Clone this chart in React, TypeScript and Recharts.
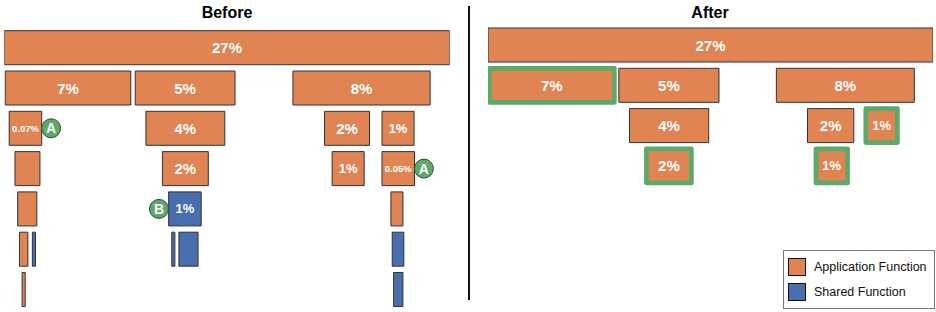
import { BarChart, Bar, XAxis, YAxis } from "recharts"

const FONT = "'Liberation Sans', Arial, Helvetica, sans-serif"

const categories = ["Application Function", "Shared Function"]
const categoryColors = ["#DF8452", "#4A6DAE"]
const highlightColor = "#5BAA69"
const depths = ["0", "1", "2", "3", "4", "5", "6"]

// stack frames: [depth, start, end, label, kind (0 = application, 1 = shared), marker]
const beforeFrames: [number, number, number, string, number, string][] = [
    [0, 0, 100, "27%", 0, ""],
    [1, 0.2, 28.4, "7%", 0, ""],
    [1, 29.4, 51.8, "5%", 0, ""],
    [1, 64.8, 95.6, "8%", 0, ""],
    [2, 1.1, 8.4, "0.07%", 0, "A"],
    [2, 31.8, 49.5, "4%", 0, ""],
    [2, 71.9, 82.0, "2%", 0, ""],
    [2, 84.8, 92.0, "1%", 0, ""],
    [3, 2.4, 8.0, "", 0, ""],
    [3, 35.5, 45.8, "2%", 0, ""],
    [3, 73.6, 80.8, "1%", 0, ""],
    [3, 84.8, 92.1, "0.05%", 0, "A"],
    [4, 3.0, 7.3, "", 0, ""],
    [4, 36.9, 44.2, "1%", 1, "B"],
    [4, 86.8, 89.5, "", 0, ""],
    [5, 3.4, 5.3, "", 0, ""],
    [5, 6.3, 7.0, "", 1, ""],
    [5, 37.6, 38.3, "", 1, ""],
    [5, 39.2, 43.5, "", 1, ""],
    [5, 87.1, 89.7, "", 1, ""],
    [6, 4.0, 4.7, "", 0, ""],
    [6, 87.4, 89.5, "", 1, ""],
]

// [depth, start, end, label, kind, changed]
const afterFrames: [number, number, number, string, number, number][] = [
    [0, 0, 100, "27%", 0, 0],
    [1, 0.3, 28.4, "7%", 0, 1],
    [1, 29.4, 51.9, "5%", 0, 0],
    [1, 64.8, 95.8, "8%", 0, 0],
    [2, 31.8, 49.6, "4%", 0, 0],
    [2, 71.8, 82.2, "2%", 0, 0],
    [2, 84.9, 92.0, "1%", 0, 1],
    [3, 35.6, 45.7, "2%", 0, 1],
    [3, 73.7, 80.8, "1%", 0, 1],
]

const SLOTS = 5

interface FrameMeta {
    label: string
    kind: number
    marker: string
    changed: boolean
}

function buildRows(frames: { depth: number; start: number; end: number; meta: FrameMeta }[]) {
    return depths.map((d, depth) => {
        const row: any = { depth: d }
        frames
            .filter((f) => f.depth === depth)
            .forEach((f, i) => {
                row[`s${i}`] = [f.start, f.end]
                row[`m${i}`] = f.meta
            })
        return row
    })
}

const beforeRows = buildRows(
    beforeFrames.map(([depth, start, end, label, kind, marker]) => ({
        depth,
        start,
        end,
        meta: { label, kind, marker, changed: false },
    }))
)

const afterRows = buildRows(
    afterFrames.map(([depth, start, end, label, kind, changed]) => ({
        depth,
        start,
        end,
        meta: { label, kind, marker: "", changed: changed === 1 },
    }))
)

function labelSize(label: string, width: number) {
    if (label.length > 3) return 9.5
    if (width < 40) return 13
    return 15
}

function makeShape(slot: number) {
    return (props: any) => {
        const { x, y, width, height, payload } = props
        const f: FrameMeta | undefined = payload ? payload[`m${slot}`] : undefined
        if (!f || !width) return <g />
        const cy = y + height / 2
        const mx = f.marker === "B" ? x - 9.7 : x + width + 9.4
        return (
            <g>
                <rect
                    x={x}
                    y={y}
                    width={width}
                    height={height}
                    fill={categoryColors[f.kind]}
                    stroke={f.changed ? highlightColor : "#333"}
                    strokeWidth={f.changed ? 4.7 : 1}
                    strokeLinejoin="round"
                />
                {f.label && (
                    <text
                        x={x + width / 2}
                        y={cy}
                        textAnchor="middle"
                        dominantBaseline="central"
                        fill="#fff"
                        fontWeight="bold"
                        fontFamily={FONT}
                        fontSize={labelSize(f.label, width)}
                    >
                        {f.label}
                    </text>
                )}
                {f.marker && (
                    <g>
                        <circle cx={mx} cy={cy} r={9.5} fill={highlightColor} stroke="#2F4F36" strokeWidth={1} />
                        <text
                            x={mx}
                            y={cy}
                            textAnchor="middle"
                            dominantBaseline="central"
                            fill="#fff"
                            fontWeight="bold"
                            fontFamily={FONT}
                            fontSize={14}
                        >
                            {f.marker}
                        </text>
                    </g>
                )}
            </g>
        )
    }
}

const slotShapes = Array.from({ length: SLOTS }, (_, i) => makeShape(i))

function FlameChart({ rows, width, margin }: { rows: any[]; width: number; margin: any }) {
    return (
        <BarChart
            width={width}
            height={312}
            data={rows}
            layout="vertical"
            margin={margin}
            barSize={34}
            barGap={-34}
        >
            <XAxis type="number" hide domain={[0, 100]} allowDataOverflow />
            <YAxis type="category" hide dataKey="depth" />
            {slotShapes.map((shape, i) => (
                <Bar key={i} dataKey={`s${i}`} shape={shape} isAnimationActive={false} />
            ))}
        </BarChart>
    )
}

export default function App() {
    const title = {
        position: "absolute" as const,
        top: 5,
        width: 200,
        textAlign: "center" as const,
        fontFamily: FONT,
        fontWeight: "bold" as const,
        fontSize: 16,
        lineHeight: "16px",
        color: "#000",
    }
    return (
        <div style={{ position: "absolute", left: 0, top: 0, width: 936, height: 312, background: "#fff" }}>
            <div style={{ position: "absolute", left: 0, top: 0 }}>
                <FlameChart rows={beforeRows} width={470} margin={{ top: 27.7, bottom: 2.2, left: 4.3, right: 20.3 }} />
            </div>
            <div style={{ position: "absolute", left: 470, top: 0 }}>
                <FlameChart rows={afterRows} width={466} margin={{ top: 25, bottom: 4.9, left: 18, right: 3 }} />
            </div>
            <div style={{ ...title, left: 127 }}>Before</div>
            <div style={{ ...title, left: 610 }}>After</div>
            <div style={{ position: "absolute", left: 467.5, top: 6, width: 2, height: 294, background: "#111" }} />
            <div
                style={{
                    position: "absolute",
                    left: 783,
                    top: 250,
                    width: 152,
                    height: 59,
                    boxSizing: "border-box",
                    border: "1px solid #777",
                    background: "#fff",
                }}
            >
                {categories.map((c, i) => (
                    <div key={c} style={{ position: "absolute", left: 4, top: 6.7 + i * 25.6, height: 18, display: "flex", alignItems: "center" }}>
                        <div
                            style={{
                                width: 18,
                                height: 18,
                                boxSizing: "border-box",
                                background: categoryColors[i],
                                border: "1px solid #111",
                            }}
                        />
                        <span style={{ marginLeft: 8, fontFamily: FONT, fontSize: 12.5, color: "#111", whiteSpace: "nowrap" }}>{c}</span>
                    </div>
                ))}
            </div>
        </div>
    )
}
